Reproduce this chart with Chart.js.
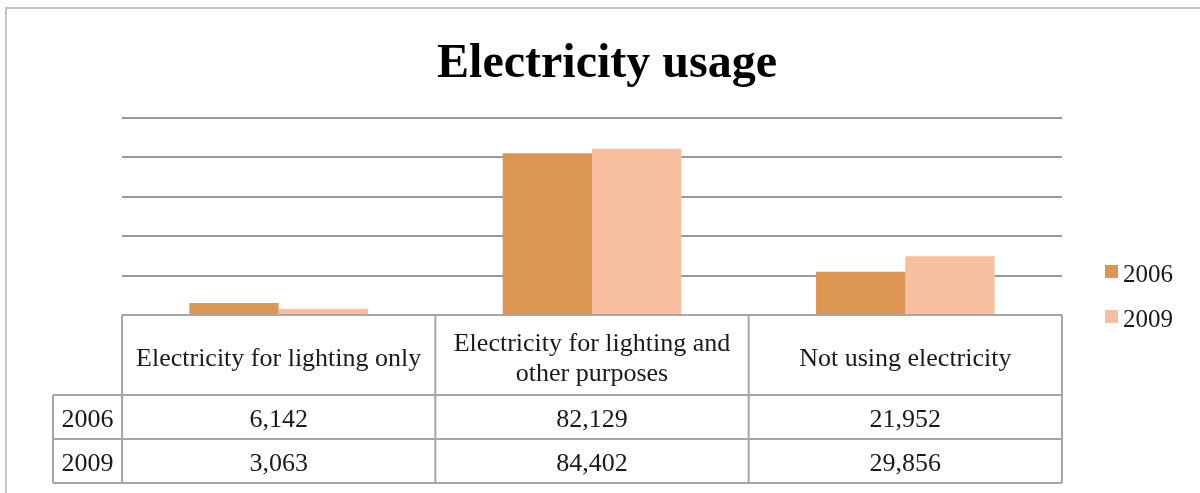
<!DOCTYPE html>
<html>
<head>
<meta charset="utf-8">
<title>Electricity usage</title>
<script src="https://cdn.jsdelivr.net/npm/chart.js@4"></script>
<style>
    html, body { margin: 0; padding: 0; background: #fff; }
    canvas { display: block; }
</style>
</head>
<body>
<canvas id="usageChart" width="1200" height="493"></canvas>
<script>
// Categories and values per survey year
const categories = ['Electricity for lighting only', 'Electricity for lighting and other purposes', 'Not using electricity'];
const headerLines = [['Electricity for lighting only'], ['Electricity for lighting and', 'other purposes'], ['Not using electricity']];
const years = ['2006', '2009'];
const values2006 = [6142, 82129, 21952];
const values2009 = [3063, 84402, 29856];
const yTicks = [0, 20000, 40000, 60000, 80000, 100000];

const colors = ['#dc9553', '#f7bf9f'];
const serif = '"Liberation Serif", "Times New Roman", serif';

// Title, data table under the plot and legend on the right, placed from the chart's scales
const tablePlugin = {
    id: 'dataTable',
    afterDraw(chart) {
        const ctx = chart.ctx;
        const area = chart.chartArea;
        const xs = chart.scales.x;
        const colW = area.width / categories.length;
        const top = area.bottom;
        const headerBottom = top + 80;
        const rowH = 44;
        const labelLeft = 53;
        const rows = [values2006, values2009];

        ctx.save();
        // outer chart frame
        ctx.strokeStyle = '#c4c4c4';
        ctx.lineWidth = 2;
        ctx.strokeRect(6, 8, 1300, 600);

        // title
        ctx.fillStyle = '#000';
        ctx.font = 'bold 48px ' + serif;
        ctx.textAlign = 'center';
        ctx.textBaseline = 'alphabetic';
        ctx.fillText('Electricity usage', 607, 77);

        ctx.strokeStyle = '#a6a6a6';
        ctx.lineWidth = 2;
        ctx.beginPath();
        ctx.moveTo(area.left, top);
        ctx.lineTo(area.left, headerBottom + rowH * rows.length);
        for (let i = 1; i <= categories.length; i++) {
            const x = area.left + i * colW;
            ctx.moveTo(x, top);
            ctx.lineTo(x, headerBottom + rowH * rows.length);
        }
        ctx.moveTo(labelLeft, headerBottom);
        ctx.lineTo(labelLeft, headerBottom + rowH * rows.length);
        for (let r = 0; r <= rows.length; r++) {
            const y = headerBottom + r * rowH;
            ctx.moveTo(labelLeft, y);
            ctx.lineTo(area.right, y);
        }
        ctx.moveTo(area.left, top);
        ctx.lineTo(area.right, top);
        ctx.stroke();

        ctx.fillStyle = '#1a1a1a';
        ctx.font = '26px ' + serif;
        ctx.textBaseline = 'middle';
        headerLines.forEach((lines, i) => {
            const cx = xs.getPixelForValue(i);
            const mid = (top + headerBottom) / 2 + 4;
            lines.forEach((line, j) => {
                const y = mid + (j - (lines.length - 1) / 2) * 30;
                ctx.fillText(line, cx, y);
            });
        });
        rows.forEach((vals, r) => {
            const y = headerBottom + r * rowH + rowH / 2 + 3;
            ctx.fillText(years[r], (labelLeft + area.left) / 2, y);
            vals.forEach((v, i) => {
                ctx.fillText(v.toLocaleString('en-US'), xs.getPixelForValue(i), y);
            });
        });

        // legend
        ctx.textAlign = 'left';
        ctx.font = '25px ' + serif;
        chart.data.datasets.forEach((ds, i) => {
            const y = 271 + i * 45;
            ctx.fillStyle = ds.backgroundColor;
            ctx.fillRect(1105, y - 6, 13, 13);
            ctx.fillStyle = '#1a1a1a';
            ctx.fillText(ds.label, 1123, y + 4);
        });
        ctx.restore();
    }
};

new Chart(document.getElementById('usageChart'), {
    type: 'bar',
    data: {
        labels: categories,
        datasets: [
            { label: years[0], data: values2006, backgroundColor: colors[0] },
            { label: years[1], data: values2009, backgroundColor: colors[1] }
        ]
    },
    options: {
        responsive: false,
        animation: false,
        devicePixelRatio: 1,
        categoryPercentage: 0.57,
        barPercentage: 1.0,
        layout: { padding: { left: 122, right: 138, top: 118, bottom: 178 } },
        scales: {
            x: { display: false },
            y: {
                min: yTicks[0],
                max: yTicks[yTicks.length - 1],
                afterBuildTicks(axis) { axis.ticks = yTicks.map(v => ({ value: v })); },
                ticks: { display: false },
                border: { display: false },
                grid: { color: '#9a9a9a', lineWidth: 2, drawTicks: false }
            }
        },
        plugins: {
            legend: { display: false },
            tooltip: { enabled: false },
            title: { display: false }
        }
    },
    plugins: [tablePlugin]
});
</script>
</body>
</html>
